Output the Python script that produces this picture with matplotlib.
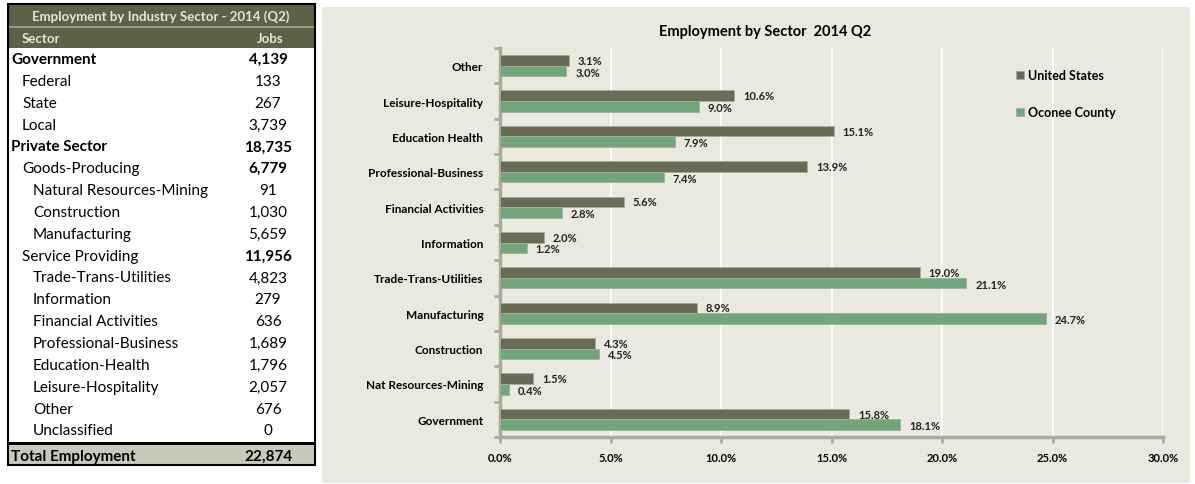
import matplotlib.pyplot as plt
from matplotlib.patches import Rectangle
import numpy as np

plt.rcParams['font.family'] = ['Lato', 'DejaVu Sans']

# table data
tbl_labels = ['Government', 'Federal', 'State', 'Local', 'Private Sector',
              'Goods-Producing', 'Natural Resources-Mining', 'Construction',
              'Manufacturing', 'Service Providing', 'Trade-Trans-Utilities',
              'Information', 'Financial Activities', 'Professional-Business',
              'Education-Health', 'Leisure-Hospitality', 'Other', 'Unclassified']
tbl_jobs = ['4,139', '133', '267', '3,739', '18,735', '6,779', '91', '1,030',
            '5,659', '11,956', '4,823', '279', '636', '1,689', '1,796',
            '2,057', '676', '0']
tbl_level = [0, 1, 1, 1, 0, 1, 2, 2, 2, 1, 2, 2, 2, 2, 2, 2, 2, 2]
tbl_bold_num = [True, False, False, False, True, True, False, False, False,
                True, False, False, False, False, False, False, False, False]
total_jobs = '22,874'

# chart data
sectors = ['Other', 'Leisure-Hospitality', 'Education Health',
           'Professional-Business', 'Financial Activities', 'Information',
           'Trade-Trans-Utilities', 'Manufacturing', 'Construction',
           'Nat Resources-Mining', 'Government']
us = [3.1, 10.6, 15.1, 13.9, 5.6, 2.0, 19.0, 8.9, 4.3, 1.5, 15.8]
oconee = [3.0, 9.0, 7.9, 7.4, 2.8, 1.2, 21.1, 24.7, 4.5, 0.4, 18.1]

W, H = 1195, 485
fig = plt.figure(figsize=(W / 100, H / 100), dpi=100)
fig.patch.set_facecolor('white')


def fx(px):
    return px / W


def fy(py):
    return 1 - py / H


def frect(x0, y0, x1, y1, **kw):
    fig.patches.append(Rectangle((fx(x0), fy(y1)), fx(x1) - fx(x0), fy(y0) - fy(y1),
                                 transform=fig.transFigure, **kw))


# ---- table ----
dark = '#5e6048'
frect(8, 5, 315, 49, facecolor=dark, edgecolor='none')
frect(8, 27, 315, 28.5, facecolor='#9a9c88', edgecolor='none')
fig.text(fx(161), fy(17), 'Employment by Industry Sector - 2014 (Q2)', color='#e6e6dc',
         fontsize=9.5, fontweight='bold', ha='center', va='center')
fig.text(fx(22), fy(39), 'Sector', color='#e6e6dc', fontsize=9.5, fontweight='bold',
         va='center')
fig.text(fx(270), fy(39), 'Jobs', color='#e6e6dc', fontsize=9.5, fontweight='bold',
         va='center', ha='center')

row_h = 21.85
for i, (lab, job) in enumerate(zip(tbl_labels, tbl_jobs)):
    y = 60 + i * row_h
    lvl = tbl_level[i]
    fig.text(fx(11 + 11 * lvl), fy(y), lab, fontsize=11,
             fontweight='bold' if lvl == 0 else 'normal', va='center', color='black')
    fig.text(fx(268), fy(y), job, fontsize=11,
             fontweight='bold' if tbl_bold_num[i] else 'normal',
             va='center', ha='center', color='black')

frect(8, 446, 315, 466, facecolor='#c9c9b9', edgecolor='none')
frect(8, 443, 315, 446, facecolor='black', edgecolor='none')
fig.text(fx(11), fy(457), 'Total Employment', fontsize=11, fontweight='bold', va='center')
fig.text(fx(268), fy(457), total_jobs, fontsize=11, fontweight='bold', va='center',
         ha='center')
frect(8, 5, 315, 466, facecolor='none', edgecolor='black', linewidth=1.5)

# ---- chart ----
frect(322, 8, 1190, 484, facecolor='#e9e9df', edgecolor='none', zorder=-10)

ax = fig.add_axes([fx(500), fy(438), fx(1163) - fx(500), fy(49) - fy(438)])
ax.set_facecolor('none')
y = np.arange(len(sectors))
bh = 0.3
c_us = '#686b55'
c_oc = '#71a57b'
ax.barh(y - bh / 2, us, height=bh, color=c_us, edgecolor='#a8ac98', linewidth=0.6,
        label='United States', zorder=3)
ax.barh(y + bh / 2, oconee, height=bh, color=c_oc, edgecolor='#a8ac98', linewidth=0.6,
        label='Oconee County', zorder=3)
for yi, v in zip(y, us):
    ax.text(v + 0.4, yi - bh / 2, f'{v:.1f}%', fontsize=8, fontweight='bold',
            va='center', ha='left', color='#222222')
for yi, v in zip(y, oconee):
    ax.text(v + 0.4, yi + bh / 2 + 0.03, f'{v:.1f}%', fontsize=8, fontweight='bold',
            va='center', ha='left', color='#222222')

ax.set_ylim(len(sectors) - 0.5, -0.5)
ax.set_xlim(0, 30)
ax.set_xticks(np.arange(0, 31, 5))
ax.set_xticklabels([f'{t:.1f}%' for t in np.arange(0, 31, 5)])
ax.set_yticks(y)
ax.set_yticklabels(sectors)
ax.set_yticks(np.arange(-0.5, len(sectors), 1), minor=True)
ax.tick_params(axis='y', which='major', length=0, pad=12, labelsize=8.5)
ax.tick_params(axis='y', which='minor', length=4, width=2, color='#a8ac98')
ax.tick_params(axis='x', length=4, width=2, color='#a8ac98', labelsize=8, pad=7)
for lab in ax.get_xticklabels() + ax.get_yticklabels():
    lab.set_fontweight('bold')
ax.grid(axis='x', color='white', linewidth=1.2, zorder=0)
for s in ['top', 'right']:
    ax.spines[s].set_visible(False)
for s in ['left', 'bottom']:
    ax.spines[s].set_color('#a8ac98')
    ax.spines[s].set_linewidth(2.5)

fig.text(fx(765), fy(32), 'Employment by Sector  2014 Q2', fontsize=10.5, fontweight='bold',
         ha='center', va='center')

leg = ax.legend(loc='upper left', bbox_to_anchor=(fx(1005 - 500) / (fx(1163) - fx(500)), 0.975),
                frameon=False, handlelength=0.6, handleheight=0.6,
                handletextpad=0.3, labelspacing=2.0, prop={'weight': 'bold', 'size': 9})

fig.savefig('out.png', dpi=100)
